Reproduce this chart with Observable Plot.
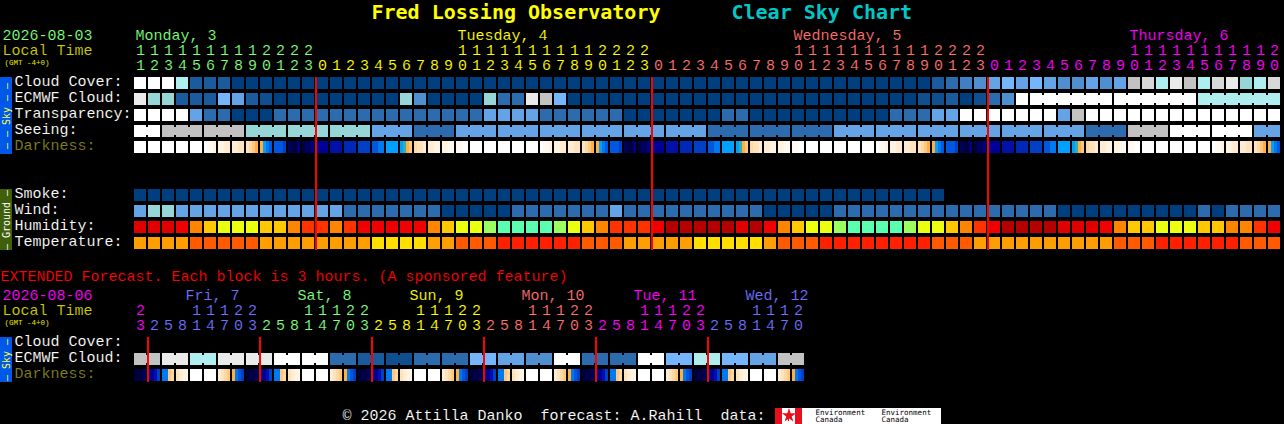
<!DOCTYPE html>
<html>
<head>
<meta charset="utf-8">
<style>
  html, body { margin: 0; padding: 0; background: #000; }
  svg { display: block; }
</style>
<script src="https://cdn.jsdelivr.net/npm/d3@7"></script>
<script src="https://cdn.jsdelivr.net/npm/@observablehq/plot@0.6"></script>
</head>
<body>
<script>
// ---- forecast rows: one letter per hourly block, see skyLevels / humidityLevels / temperatureLevels
const cloudCover   = "nnnjcccaaa aaaaaaaaaa aaaaaaaaaa aaaaaaaaaa aaaaaaaaaa aaaaaaacde fghghgffgf gkljmkjlmi jl";
const ecmwfCloud   = "miiccchgcb aaaaaaaaai faaaaiddmk haaaaaaaaa aaaaaaaaaa aaaaaabbca bdfnnnnnnn nnnnnnjjjj jj";
const transparency = "nnnngddaaa dddddddddd dddddggggd dddddaaaaa aaddaaaaaa aaaadddggn nnnnnngknn nnnnnnnnnn nn";
const seeing       = "nnkkkkkkii iiiiiiiggg dddggggggg gggggggggg gddddddddd gggggggggg ggggggggdd dkkknnnnnn gg";
const smoke        = "aaaaaaaaaa aaaaaaaaaa aaaaaaaaaa aaaaaaaaaa aaaaaaaaaa aaaaaaaa";
const wind         = "giiggggggg gggggddddd ddaaaaaddd ddddgddddd dddddaaaaa dddddddddd ddddddaaaa aaaaaadadd dd";
const humidity     = "BBBCEFGGGF FEDDEDCCCC CEFGGHIIII HGFEDDDCAA AAABACEFGG HIIIIHGGFE DCAAAABBBC EFFGGGFFEE DC";
const temperature  = "OOOOPPPPPO OOOOOOOYYY YOOPPPRRRR RRPPPOOOOO YYYYYOPPPR RRRRRRRPPP OOOOOOOOOO PPPRRRRRRP PP";
const extendedEcmwf = "kkmmjjmmmm nnnnddccbb ddddhhggff nnddddnnhh jjhhggkk";

// darkness: each block holds four stripes, one letter each, see darknessLevels
const darkness = [
  "0000","0000","0000","0000","0000","0112","2233","3344","4567","79ab","bbbc","hiig","ihhg","ffff","eeee","dddd","cccc","bbaa","9999","9876","5443","3322","2211","1100",
  "0000","0000","0000","0000","0000","0112","2233","3344","4567","79ab","bbbc","hiig","ihhg","ffff","eeee","dddd","cccc","bbaa","9999","9876","5443","3322","2211","1100",
  "0000","0000","0000","0000","0000","0112","2233","3344","4567","79ab","bbbc","hiig","ihhg","ffff","eeee","dddd","cccc","bbaa","9999","9876","5443","3322","2211","1100",
  "0000","0000","0000","0000","0000","0112","2233","3344","4567","79ab"
];
const extendedDarkness = [
  "iiih","gfec","aa65","4322","0000","0000","3456","7abc",
  "iiih","gfec","aa65","4322","0000","0000","3456","7abc",
  "iiih","gfec","aa65","4322","0000","0000","3456","7abc",
  "iiih","gfec","aa65","4322","0000","0000","3456","7abc",
  "iiih","gfec","aa65","4322","0000","0000","3456","7abc",
  "iiih","gfec","aa65","4322","0000","0000","3456","7abc"
];

// blocks that are joined to their neighbours (first block of each run)
const seeingRuns = [0,2,5,8,11,14,17,20,23,26,29,32,35,38,41,44,47,50,53,56,59,62,65,68,71,74,77,80,82];
const ecmwfRuns = [64,70,76,82];
const extendedEcmwfRuns = [0,2,4,6,8,10,12,14,16,18,20,22,24,26,28,30,32,34,36,38,40,42,44,46,48];

// ---- colour keys
const skyLevels = {a:"#003f7f",b:"#0f4f90",c:"#1a5b9e",d:"#2c6bad",e:"#3f7fc4",f:"#4f8fd0",g:"#63a3e6",h:"#75b5fb",i:"#96d6d6",j:"#aeeeee",k:"#c2c2c2",l:"#d8d8d8",m:"#eaeaea",n:"#ffffff"};
const humidityLevels = {A:"#b40000",B:"#e00000",C:"#f00000",D:"#ff3300",E:"#ff8400",F:"#ffc800",G:"#ebff10",H:"#9cff60",I:"#5affb0"};
const temperatureLevels = {Y:"#ffde00",O:"#ff9e00",P:"#ff5a00",R:"#ff2000"};
const darknessLevels = {"0":"#ffffff","1":"#fff9f0","2":"#fff3e2","3":"#ffecd2","4":"#ffe3bc","5":"#ffd9a4","6":"#ffc87e","7":"#ffb040","8":"#30b0b0","9":"#00a0ff",a:"#0078f0",b:"#0058e0",c:"#0040c8",d:"#0028b8",e:"#0010a8",f:"#000098",g:"#000080",h:"#000060",i:"#000040"};
const dayColours = {dayMon:"#7fff7f",dayTue:"#ffff00",dayWed:"#ff7070",dayThu:"#ff00ff",dayFri:"#7070ff"};

// ---- axis labels
const mainHours = [11,12,13,14,15,16,17,18,19,20,21,22,23,
  0,1,2,3,4,5,6,7,8,9,10,11,12,13,14,15,16,17,18,19,20,21,22,23,
  0,1,2,3,4,5,6,7,8,9,10,11,12,13,14,15,16,17,18,19,20,21,22,23,
  0,1,2,3,4,5,6,7,8,9,10,11,12,13,14,15,16,17,18,19,20];
const mainHourColours = [[13,"dayMon"],[24,"dayTue"],[24,"dayWed"],[21,"dayThu"]];
const mainDays = [["Monday, 3",0,"dayMon"],["Tuesday, 4",23,"dayTue"],["Wednesday, 5",47,"dayWed"],["Thursday, 6",71,"dayThu"]];
const extendedHours = [23,
  2,5,8,11,14,17,20,23, 2,5,8,11,14,17,20,23, 2,5,8,11,14,17,20,23,
  2,5,8,11,14,17,20,23, 2,5,8,11,14,17,20,23, 2,5,8,11,14,17,20];
const extendedHourColours = [[1,"dayThu"],[8,"dayFri"],[8,"dayMon"],[8,"dayTue"],[8,"dayWed"],[8,"dayThu"],[7,"dayFri"]];
const extendedDays = [["Fri, 7",4,"dayFri"],["Sat, 8",12,"dayMon"],["Sun, 9",20,"dayTue"],["Mon, 10",28,"dayWed"],["Tue, 11",36,"dayThu"],["Wed, 12",44,"dayFri"]];
const midnights = [13,37,61];
const extendedMidnights = [1,9,17,25,33,41];

const skyLabels = ["Cloud Cover:","ECMWF Cloud:","Transparency:","Seeing:","Darkness:"];
const groundLabels = ["Smoke:","Wind:","Humidity:","Temperature:"];
const extendedLabels = ["Cloud Cover:","ECMWF Cloud:","Darkness:"];

// ---- layout: the x scale counts blocks, the y scale counts rows
const blockPx = 14, rowPx = 16, leftPx = 134, topPx = 77;
const X = px => (px - leftPx) / blockPx;
const Y = px => (px - topPx) / rowPx;
const groundRow = 7, extendedRow = Y(337), labelOffset = 0.25;

const levels = {...skyLevels, ...humidityLevels, ...temperatureLevels};
const clean = s => Array.from(s.replace(/ /g, ""));
const cells = (s, row) => clean(s).map((k, i) => ({i, row, k}));
const stripes = (list, row) => list.flatMap((s, i) => Array.from(s).map((c, n) => ({i, n, row, k: "dark" + c})));
const joints = (runs, row, s) => {
  const chars = clean(s), out = [];
  for (let r = 0; r + 1 < runs.length; ++r)
    for (let i = runs[r]; i < runs[r + 1] - 1; ++i) out.push({i, row, k: chars[i]});
  return out;
};
const expandColours = spans => spans.flatMap(([n, c]) => Array(n).fill(c));

const blocks = [
  ...cells(cloudCover, 0), ...cells(ecmwfCloud, 1), ...cells(transparency, 2), ...cells(seeing, 3),
  ...cells(smoke, groundRow), ...cells(wind, groundRow + 1), ...cells(humidity, groundRow + 2), ...cells(temperature, groundRow + 3),
  ...cells(extendedEcmwf, extendedRow + 1)
];
const connectors = [
  ...joints(seeingRuns, 3, seeing), ...joints(ecmwfRuns, 1, ecmwfCloud), ...joints(extendedEcmwfRuns, extendedRow + 1, extendedEcmwf)
];
const darkStripes = [...stripes(darkness, 4), ...stripes(extendedDarkness, extendedRow + 2)];

function hourText(hours, spans, tensY, onesY) {
  const colours = expandColours(spans);
  return hours.flatMap((h, i) => {
    const out = [{i, y: onesY, t: String(h % 10), k: colours[i]}];
    if (h >= 10) out.push({i, y: tensY, t: String(Math.floor(h / 10)), k: colours[i]});
    return out;
  });
}
const digits = [
  ...hourText(mainHours, mainHourColours, Y(49.5), Y(64.5)),
  ...hourText(extendedHours, extendedHourColours, Y(309.5), Y(324.5))
];

const colourDomain = [...Object.keys(levels), ...Object.keys(darknessLevels).map(k => "dark" + k), ...Object.keys(dayColours)];
const colourRange = [...Object.values(levels), ...Object.values(darknessLevels), ...Object.values(dayColours)];

const mono = "Liberation Mono";
// a hairline of background colour over the glyphs gives the thin look of the original lettering
const thin = {stroke: "#000", strokeWidth: 0.12, paintOrder: "normal"};
const base = {textAnchor: "start", lineAnchor: "middle", fontFamily: mono, fontSize: 15, ...thin};
const label = (data, y, fill) => Plot.text(data, {x: X(14), y, text: d => d, fill, ...base});
const line = (text, xPx, yPx, fill, opts = {}) => Plot.text([text], {x: X(xPx), y: Y(yPx), text: d => d, fill, ...base, ...opts});
const strip = (top, bottom, fill) => Plot.rect([0], {x1: X(0), x2: X(12), y1: Y(top), y2: Y(bottom), fill, shapeRendering: "crispEdges"});
const stripText = (text, centre, fill) => Plot.text([text], {
  x: X(6), y: Y(centre), text: d => d, fill, rotate: -90, textAnchor: "middle", lineAnchor: "middle", fontFamily: "DejaVu Sans Mono", fontSize: 10
});
const titleFont = {fontFamily: "DejaVu Sans Mono", fontWeight: "bold", fontSize: 20, stroke: "none"};
const tinyFont = {fontSize: 7.5, stroke: "none"};
const logoFont = {fill: "#000", textAnchor: "start", lineAnchor: "middle", fontFamily: "DejaVu Sans Mono", fontSize: 7.5};
const redLine = {stroke: "#ff0000", strokeWidth: 2, dx: -0.5, shapeRendering: "crispEdges"};

const chart = Plot.plot({
  width: 1284, height: 424, margin: 0,
  style: {background: "#000", whiteSpace: "pre"},
  x: {domain: [X(0), X(1284)], range: [0, 1284], axis: null},
  y: {domain: [Y(0), Y(424)], range: [0, 424], axis: null},
  color: {type: "ordinal", domain: colourDomain, range: colourRange},
  marks: [
    // title
    line("Fred Lossing Observatory", 371, 12, "#ffff00", titleFont),
    line("Clear Sky Chart", 731, 12, "#00c8c8", titleFont),
    // main header
    line("2026-08-03", 2, 34.5, "#7fff7f"),
    line("Local Time", 2, 49.5, "#cccc00"),
    line("(GMT -4+0)", 4, 62, "#e6e600", tinyFont),
    Plot.text(mainDays, {x: d => d[1], y: Y(34.5), text: d => d[0], fill: d => d[2], dx: 1, ...base}),
    // extended header
    line("EXTENDED Forecast. Each block is 3 hours. (A sponsored feature)", 0, 275.5, "#ff0000"),
    line("2026-08-06", 2, 294.5, "#ff00ff"),
    line("Local Time", 2, 309.5, "#cccc00"),
    line("(GMT -4+0)", 4, 322, "#e6e600", tinyFont),
    Plot.text(extendedDays, {x: d => d[1], y: Y(294.5), text: d => d[0], fill: d => d[2], dx: -5, ...base}),
    // hour digits
    Plot.text(digits, {x: "i", y: "y", text: "t", fill: "k", dx: 6, ...base, textAnchor: "middle"}),
    // row labels
    label(skyLabels.slice(0, 4), (d, i) => i + labelOffset, "#ffffff"),
    label(skyLabels.slice(4), () => 4 + labelOffset, "#808020"),
    label(groundLabels, (d, i) => groundRow + i + labelOffset, "#ffffff"),
    label(extendedLabels.slice(0, 2), (d, i) => extendedRow + i + labelOffset, "#ffffff"),
    label(extendedLabels.slice(2), () => extendedRow + 2 + labelOffset, "#808020"),
    // side strips
    strip(77, 154, "#0058e8"), stripText("\u2013 \u2013 Sky \u2013 \u2013", 115.5, "#ffff40"),
    strip(189, 250, "#3f5f0a"), stripText("\u2013 Ground \u2013", 219.5, "#ffffff"),
    strip(337, 382, "#0058e8"), stripText("\u2013 Sky \u2013", 359.5, "#ffff40"),
    // forecast blocks
    Plot.rect(blocks, {x1: "i", x2: d => d.i + 1, y1: "row", y2: d => d.row + 1, fill: "k", insetRight: 2, insetBottom: 4, shapeRendering: "crispEdges"}),
    Plot.rect(connectors, {x1: d => d.i + 12 / blockPx, x2: d => d.i + 1, y1: "row", y2: d => d.row + 1, fill: "k", insetTop: 2, insetBottom: 6, shapeRendering: "crispEdges"}),
    Plot.rect(darkStripes, {x1: d => d.i + d.n * 3 / blockPx, x2: d => d.i + (d.n + 1) * 3 / blockPx, y1: "row", y2: d => d.row + 1, fill: "k", insetBottom: 4, shapeRendering: "crispEdges"}),
    // midnight lines
    Plot.ruleX(midnights, {y1: 0, y2: Y(250), ...redLine}),
    Plot.ruleX(extendedMidnights, {y1: extendedRow, y2: Y(382), ...redLine}),
    // footer
    line("\u00a9 2026 Attilla Danko  forecast: A.Rahill  data:", 342, 415, "#ffffff"),
    Plot.rect([0], {x1: X(775), x2: X(941), y1: Y(408), y2: Y(424), fill: "#ffffff", shapeRendering: "crispEdges"}),
    Plot.rect([775, 795], {x1: d => X(d), x2: d => X(d + 7), y1: Y(408), y2: Y(424), fill: "#e8101c", shapeRendering: "crispEdges"}),
    Plot.dot([0], {x: X(788.5), y: Y(415), symbol: "star", r: 4.5, fill: "#e8101c", stroke: "none"}),
    Plot.rect([0], {x1: X(788), x2: X(789), y1: Y(416), y2: Y(421), fill: "#e8101c", shapeRendering: "crispEdges"}),
    Plot.text(["Environment","Environment"], {x: (d, i) => X(i ? 881 : 815), y: Y(412), text: d => d, ...logoFont}),
    Plot.text(["Canada","Canada"], {x: (d, i) => X(i ? 881 : 815), y: Y(419.5), text: d => d, ...logoFont})
  ]
});
document.body.appendChild(chart);
</script>
</body>
</html>
